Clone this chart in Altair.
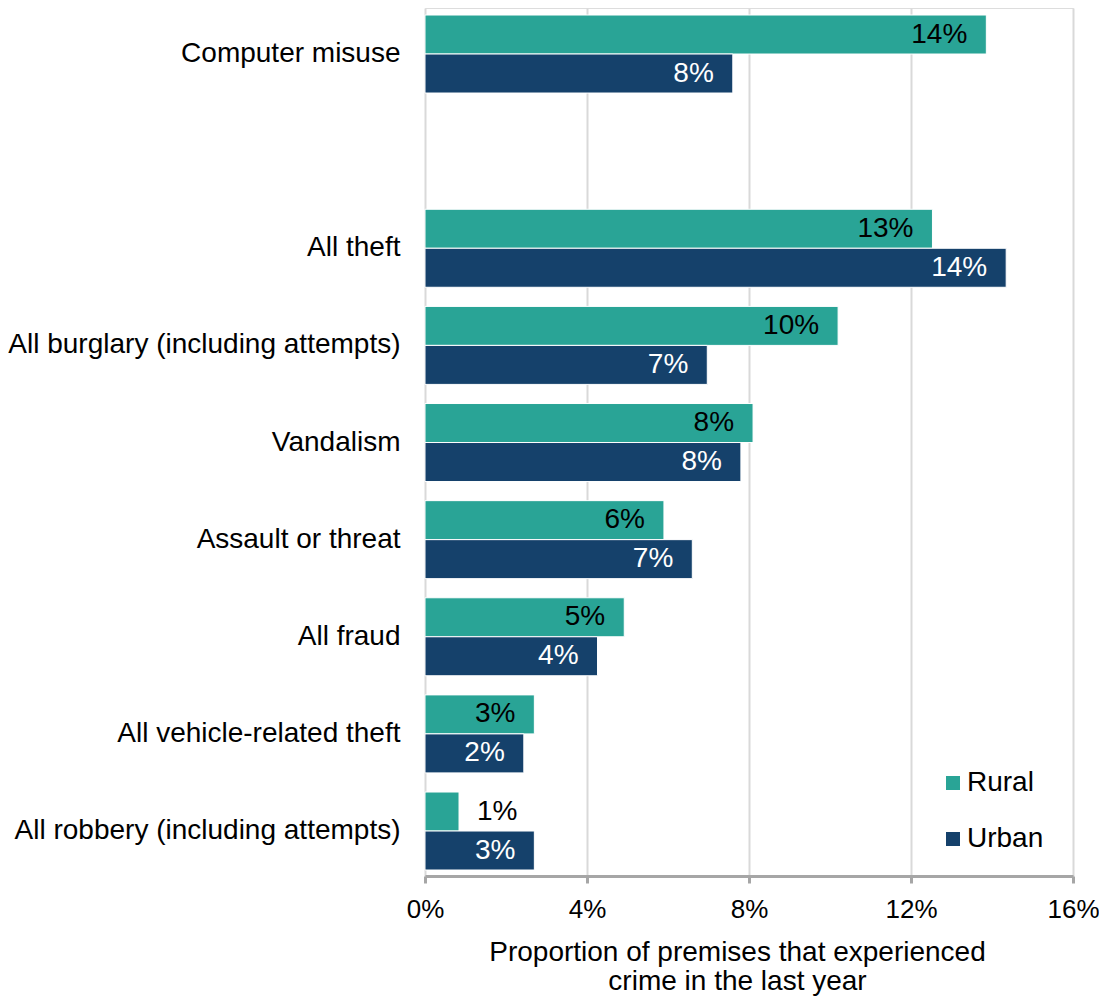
import altair as alt
import pandas as pd

categories = [
    "Computer misuse",
    " ",
    "All theft",
    "All burglary (including attempts)",
    "Vandalism",
    "Assault or threat",
    "All fraud",
    "All vehicle-related theft",
    "All robbery (including attempts)",
]
data_categories = [
    "Computer misuse",
    "All theft",
    "All burglary (including attempts)",
    "Vandalism",
    "Assault or threat",
    "All fraud",
    "All vehicle-related theft",
    "All robbery (including attempts)",
]
rural = [0.1386, 0.1253, 0.1020, 0.0810, 0.0590, 0.0492, 0.0270, 0.0084]
urban = [0.0760, 0.1435, 0.0697, 0.0780, 0.0660, 0.0426, 0.0244, 0.0270]
series = ["Rural", "Urban"]
colors = ["#29A496", "#15416B"]
x_ticks = [0, 0.04, 0.08, 0.12, 0.16]

rows = []
for c, r, u in zip(data_categories, rural, urban):
    rows.append({"category": c, "series": "Rural", "value": r})
    rows.append({"category": c, "series": "Urban", "value": u})
df = pd.DataFrame(rows)

FONT = "Liberation Sans"
FS = 28

y_scale = alt.Scale(domain=categories, paddingInner=0.197, paddingOuter=0.067, align=0.54)

y_enc = alt.Y(
    "category:N",
    scale=y_scale,
    axis=alt.Axis(
        title=None,
        ticks=False,
        domain=False,
        labelPadding=25,
        labelFontSize=FS,
        labelColor="#000000",
        labelFont=FONT,
        labelLimit=500,
    ),
)
yoff = alt.YOffset("series:N", scale=alt.Scale(domain=series, paddingInner=0, paddingOuter=0))

x_enc = alt.X(
    "value:Q",
    scale=alt.Scale(domain=[0, 0.16], nice=False),
    axis=alt.Axis(
        values=x_ticks,
        format=".0%",
        title=["Proportion of premises that experienced", "crime in the last year"],
        titleFontSize=FS,
        titleFontWeight="normal",
        titleFont=FONT,
        titleColor="#000000",
        titleLineHeight=29,
        titlePadding=16,
        titleX=312,
        labelFontSize=26,
        labelFont=FONT,
        labelColor="#000000",
        labelPadding=13,
        labelFlush=False,
        domainColor="#A6A6A6",
        domainWidth=3,
        tickColor="#A6A6A6",
        tickWidth=3,
        tickSize=7,
        gridColor="#D9D9D9",
        gridWidth=2,
    ),
)

bars = alt.Chart(df).mark_bar(stroke="white", strokeWidth=1).encode(
    y=y_enc,
    yOffset=yoff,
    x=x_enc,
    color=alt.Color(
        "series:N",
        scale=alt.Scale(domain=series, range=colors),
        legend=alt.Legend(
            title=None,
            orient="none",
            legendX=514,
            legendY=761,
            symbolType="square",
            symbolSize=196,
            symbolStrokeWidth=0,
            labelFontSize=FS,
            labelFont=FONT,
            labelColor="#000000",
            labelOffset=0,
            rowPadding=28,
            padding=0,
        ),
    ),
)

label_base = alt.Chart(df).transform_calculate(
    label="format(datum.value * 100, '.0f') + '%'"
)

inside = label_base.transform_filter("datum.value >= 0.015").mark_text(
    align="right", baseline="middle", dx=-19, font=FONT, fontSize=FS
).encode(
    y=alt.Y("category:N", scale=y_scale),
    yOffset=yoff,
    x=alt.X("value:Q"),
    text="label:N",
    color=alt.condition("datum.series === 'Rural'", alt.value("#000000"), alt.value("#FFFFFF")),
)

outside = label_base.transform_filter("datum.value < 0.015").mark_text(
    align="left", baseline="middle", dx=18, font=FONT, fontSize=FS, color="#000000"
).encode(
    y=alt.Y("category:N", scale=y_scale),
    yOffset=yoff,
    x=alt.X("value:Q"),
    text="label:N",
)

chart = (
    alt.layer(bars, inside, outside)
    .properties(
        width=648,
        height=868,
        autosize=alt.AutoSizeParams(type="none"),
        padding={"left": 417, "top": 0, "right": 26, "bottom": 121},
    )
    .configure_view(stroke=None)
    .configure(font=FONT)
)

chart.save("out.html", embed_options={"renderer": "svg", "actions": False})
